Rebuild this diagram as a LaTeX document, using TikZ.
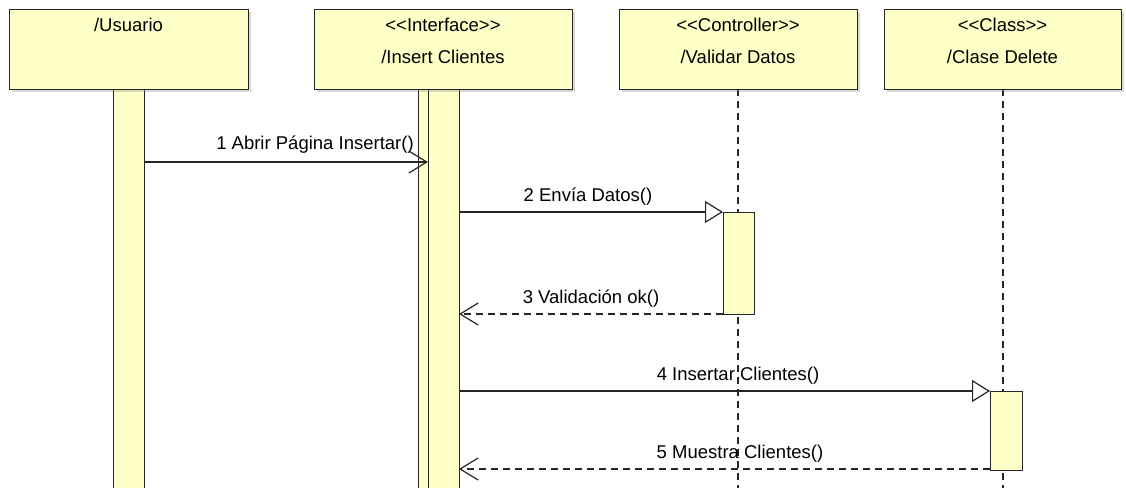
\documentclass[tikz,border=0pt]{standalone}
\usepackage{fontspec}
\setmainfont{Liberation Sans}
\usetikzlibrary{arrows.meta,shadows}
\definecolor{umlfill}{HTML}{FFFFC8}
\definecolor{umlline}{HTML}{262626}
\tikzset{
  head/.style={draw=umlline, line width=1.3pt, fill=umlfill, anchor=north west, inner sep=0pt,
    drop shadow={shadow xshift=2.5pt, shadow yshift=-2.5pt, opacity=0.3}},
  actbar/.style={draw=umlline, line width=1.3pt, fill=umlfill, anchor=north west, inner sep=0pt},
  lifeline/.style={draw=umlline, line width=1.3pt, dash pattern=on 7pt off 5pt},
  syncmsg/.style={draw=umlline, line width=1.2pt, -{Triangle[open, length=18pt, width=22pt, fill=white]}},
  callmsg/.style={draw=umlline, line width=1.2pt, -{Straight Barb[length=18pt, width=22pt]}},
  retmsg/.style={draw=umlline, line width=1.2pt, dash pattern=on 7pt off 5pt, -{Straight Barb[length=18pt, width=22pt]}},
  lbl/.style={font=\fontsize{18.5}{21}\selectfont, inner sep=0pt, text=black},
}
\begin{document}
\begin{tikzpicture}[x=1pt, y=-1pt]
\clip (0,0) rectangle (1126,487);
\fill[white] (0,0) rectangle (1126,487);

% lifelines (dashed)
\coordinate (vtop) at (738,89);
\coordinate (vbot) at (738,490);
\coordinate (ctop) at (1003,89);
\coordinate (cbot) at (1003,490);
\draw[lifeline] (vtop) -- (vbot);
\draw[lifeline] (ctop) -- (cbot);

% activation bars
\node[actbar, minimum width=31pt, minimum height=410pt] (ubar) at (113,89) {};
\node[actbar, minimum width=41pt, minimum height=410pt] (ibarA) at (418,89) {};
\node[actbar, minimum width=31pt, minimum height=410pt] (ibarB) at (428,89) {};
\node[actbar, minimum width=31pt, minimum height=102pt] (vbar) at (723,212) {};
\node[actbar, minimum width=32pt, minimum height=79pt] (cbar) at (990,391) {};

% heads
\node[head, minimum width=239pt, minimum height=80pt] (usuario) at (9,9) {};
\node[head, minimum width=258pt, minimum height=80pt] (insert) at (314,9) {};
\node[head, minimum width=238pt, minimum height=80pt] (validar) at (619,9) {};
\node[head, minimum width=237pt, minimum height=80pt] (clase) at (884,9) {};

\node[lbl] (t1) at (128.5,25) {/Usuario};
\node[lbl] (t2a) at (443,25) {<{}<Interface>{}>};
\node[lbl] (t2b) at (443,57) {/Insert Clientes};
\node[lbl] (t3a) at (738,25) {<{}<Controller>{}>};
\node[lbl] (t3b) at (738,57) {/Validar Datos};
\node[lbl] (t4a) at (1002.5,25) {<{}<Class>{}>};
\node[lbl] (t4b) at (1002.5,57) {/Clase Delete};

% messages
\coordinate (m1s) at (144,162);
\coordinate (m1e) at (428,162);
\draw[callmsg] (m1s) -- (m1e);
\node[lbl] (l1) at (315,145) {1 Abrir Página Insertar()};

\coordinate (m2s) at (459,212);
\coordinate (m2e) at (723,212);
\draw[syncmsg] (m2s) -- (m2e);
\node[lbl] (l2) at (588,197) {2 Envía Datos()};

\coordinate (m3s) at (723,314);
\coordinate (m3e) at (459,314);
\draw[retmsg] (m3s) -- (m3e);
\node[lbl] (l3) at (591,299) {3 Validación ok()};

\coordinate (m4s) at (459,391);
\coordinate (m4e) at (990,391);
\draw[syncmsg] (m4s) -- (m4e);
\node[lbl] (l4) at (738,376) {4 Insertar Clientes()};

\coordinate (m5s) at (990,469);
\coordinate (m5e) at (459,469);
\draw[retmsg] (m5s) -- (m5e);
\node[lbl] (l5) at (740,454) {5 Muestra Clientes()};
\end{tikzpicture}
\end{document}
